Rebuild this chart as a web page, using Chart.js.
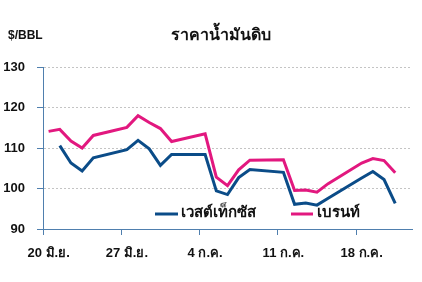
<!DOCTYPE html>
<html>
<head>
<meta charset="utf-8">
<script src="https://cdn.jsdelivr.net/npm/chart.js@4"></script>
<style>
html,body{margin:0;padding:0;background:#fff;}
#wrap{width:422px;height:282px;position:relative;}
</style>
</head>
<body>
<div id="wrap"><canvas id="c" width="422" height="282"></canvas></div>
<script>
const titleText = 'ราคาน้ำมันดิบ';
const unitText = '$/BBL';
const days = ['20 มิ.ย.','21 มิ.ย.','22 มิ.ย.','23 มิ.ย.','24 มิ.ย.','25 มิ.ย.','26 มิ.ย.',
  '27 มิ.ย.','28 มิ.ย.','29 มิ.ย.','30 มิ.ย.','1 ก.ค.','2 ก.ค.','3 ก.ค.',
  '4 ก.ค.','5 ก.ค.','6 ก.ค.','7 ก.ค.','8 ก.ค.','9 ก.ค.','10 ก.ค.',
  '11 ก.ค.','12 ก.ค.','13 ก.ค.','14 ก.ค.','15 ก.ค.','16 ก.ค.','17 ก.ค.',
  '18 ก.ค.','19 ก.ค.','20 ก.ค.','21 ก.ค.','22 ก.ค.'];
const wti = [null,110.6,106.3,104.3,107.6,null,null,
  109.6,111.9,109.8,105.7,108.4,null,null,
  108.4,99.4,98.5,102.7,104.7,null,null,
  104.0,96.1,96.4,95.9,97.6,null,null,
  102.6,104.2,102.2,96.3,null];
const brent = [114.1,114.6,111.7,110.0,113.1,null,null,
  115.1,118.0,116.3,114.8,111.6,null,null,
  113.5,102.8,100.7,104.6,107.0,null,null,
  107.1,99.5,99.6,99.1,101.2,null,null,
  106.3,107.4,106.9,103.9,null];
const seriesNames = ['เวสต์เท็กซัส','เบรนท์'];
const yTicks = [90,100,110,120,130];

const BLUE = '#0b4c88';
const PINK = '#e2187f';
const AXIS = '#4f7fae';
const FONT = '"Liberation Sans", Arial, sans-serif';

const overlay = {
  id: 'overlay',
  afterDraw(chart) {
    const ctx = chart.ctx;
    ctx.save();
    ctx.fillStyle = '#111';
    ctx.textBaseline = 'middle';
    ctx.font = 'bold 12px ' + FONT;
    ctx.textAlign = 'left';
    ctx.fillText(unitText, 8, 36);
    ctx.font = 'bold 16px ' + FONT;
    ctx.textAlign = 'center';
    ctx.fillText(titleText, 221, 36);
    const items = [
      {x: 155, w: 23, tx: 181},
      {x: 291, w: 22, tx: 317}
    ];
    chart.data.datasets.forEach((ds, i) => {
      const it = items[i];
      ctx.strokeStyle = ds.borderColor;
      ctx.lineWidth = 3;
      ctx.beginPath();
      ctx.moveTo(it.x, 214);
      ctx.lineTo(it.x + it.w, 214);
      ctx.stroke();
      ctx.fillStyle = '#111';
      ctx.font = 'bold 15px ' + FONT;
      ctx.textAlign = 'left';
      ctx.fillText(ds.label, it.tx, 213);
    });
    ctx.restore();
  }
};

new Chart(document.getElementById('c'), {
  type: 'line',
  data: {
    labels: days,
    datasets: [
      {label: seriesNames[0], data: wti, borderColor: BLUE, backgroundColor: BLUE, borderWidth: 3, pointRadius: 0, tension: 0, spanGaps: true},
      {label: seriesNames[1], data: brent, borderColor: PINK, backgroundColor: PINK, borderWidth: 3, pointRadius: 0, tension: 0, spanGaps: true}
    ]
  },
  options: {
    responsive: false,
    animation: false,
    layout: {padding: {top: 67, right: 10, left: 0, bottom: 0}},
    plugins: {legend: {display: false}, title: {display: false}, tooltip: {enabled: false}},
    scales: {
      x: {
        type: 'category',
        offset: true,
        afterFit(s) { s.height = 53; },
        grid: {
          display: true, drawOnChartArea: false, drawTicks: true, tickLength: 6, offset: true,
          color: (c) => (c.index % 7 === 0 ? AXIS : 'rgba(0,0,0,0)'),
          tickColor: (c) => (c.index % 7 === 0 ? AXIS : 'rgba(0,0,0,0)')
        },
        border: {display: true, color: AXIS, width: 1},
        ticks: {
          autoSkip: false, maxRotation: 0, minRotation: 0, padding: 11,
          color: '#111', font: {family: FONT, size: 13, weight: 'bold'},
          callback: function(v, i) { return i % 7 === 0 ? days[i] : ''; }
        }
      },
      y: {
        min: yTicks[0], max: yTicks[yTicks.length - 1],
        afterFit(s) { s.width = 43; },
        afterBuildTicks(s) { s.ticks = yTicks.map(v => ({value: v})); },
        grid: {
          color: (c) => (c.tick && c.tick.value === yTicks[0] ? 'rgba(0,0,0,0)' : '#c4c4c4'),
          tickColor: AXIS, tickLength: 6, lineWidth: 1
        },
        border: {display: true, color: AXIS, width: 1, dash: [2, 2]},
        ticks: {padding: 12, color: '#111', font: {family: FONT, size: 13, weight: 'bold'}}
      }
    }
  },
  plugins: [overlay]
});
</script>
</body>
</html>
